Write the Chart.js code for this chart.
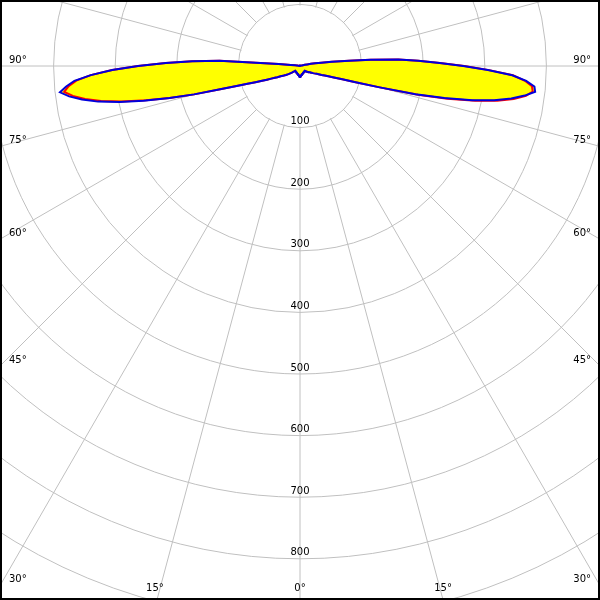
<!DOCTYPE html>
<html><head><meta charset="utf-8">
<script src="https://cdn.jsdelivr.net/npm/chart.js@4/dist/chart.umd.min.js"></script>
<style>
html,body{margin:0;padding:0;background:#fff;}
#wrap{position:relative;width:600px;height:600px;overflow:hidden;background:#fff;}
#holder{position:absolute;left:-316px;top:-550px;width:1232px;height:1232px;}
#frame{position:absolute;left:0;top:0;width:600px;height:600px;box-sizing:border-box;border:2px solid #000;pointer-events:none;}
</style></head><body>
<div id="wrap"><div id="holder"><canvas id="c"></canvas></div><div id="frame"></div></div>
<script>
// gamma angle step (degrees from nadir), samples 0..180 (145 values per half plane)
const gammaStep = 1.25;
// luminous intensity (cd/klm) per gamma sample
const c0 = [ // right half, red
  18,18,17,17,16,16,15,15,15,15, 14,14,14,14,13,13,13,13,13,13, 12,12,12,12,12,12,12,12,11,11,
  11,11,11,11,11,11,11,12,13,13, 14,15,16,16,17,18,19,21,22,24, 26,28,30,33,38,43,49,58,72,94,
  134,197,245,290,325,351,370,380,378,366, 346,307,267,227,192,160,115,80,52,35, 25,18,12,8,5,3,2,1,1,1,
  1,1,1,1,1,1,1,1,1,1, 1,1,1,1,1,1,1,1,1,1, 1,1,1,1,1,1,1,1,1,1, 1,1,1,1,1,1,1,1,1,1,
  1,1,1,1,1,1,1,1,1,1, 1,1,1,1,1];
const c180 = [ // left half, red
  18,18,17,17,16,16,15,15,15,15, 14,14,14,14,13,13,13,13,13,13, 12,12,12,12,12,12,12,12,11,11,
  11,11,11,11,11,11,11,12,13,14, 16,17,19,21,23,25,27,29,32,34, 37,41,45,51,58,66,77,90,108,135,
  178,218,256,295,328,353,372,385,377,364, 340,305,263,218,175,131,35,15,8,5, 4,3,2,1,1,1,1,1,1,1,
  1,1,1,1,1,1,1,1,1,1, 1,1,1,1,1,1,1,1,1,1, 1,1,1,1,1,1,1,1,1,1, 1,1,1,1,1,1,1,1,1,1,
  1,1,1,1,1,1,1,1,1,1, 1,1,1,1,1];
const c90 = [ // right half, blue
  18,18,17,17,16,16,15,15,15,15, 14,14,14,14,13,13,13,13,13,13, 12,12,12,12,12,12,12,12,11,11,
  11,11,11,11,11,11,11,12,13,13, 14,15,16,16,17,18,19,21,22,24, 26,28,30,33,38,43,49,58,72,94,
  134,193,240,285,320,347,368,384,382,368, 345,305,265,227,192,160,115,80,52,35, 25,18,12,8,5,3,2,1,1,1,
  1,1,1,1,1,1,1,1,1,1, 1,1,1,1,1,1,1,1,1,1, 1,1,1,1,1,1,1,1,1,1, 1,1,1,1,1,1,1,1,1,1,
  1,1,1,1,1,1,1,1,1,1, 1,1,1,1,1];
const c270 = [ // left half, blue
  18,18,17,17,16,16,15,15,15,15, 14,14,14,14,13,13,13,13,13,13, 12,12,12,12,12,12,12,12,11,11,
  11,11,11,11,11,11,11,12,13,14, 16,17,19,21,23,25,27,29,32,34, 37,41,45,51,58,66,77,90,108,135,
  178,218,260,299,333,358,378,392,381,367, 340,305,263,218,175,131,35,15,8,5, 4,3,2,1,1,1,1,1,1,1,
  1,1,1,1,1,1,1,1,1,1, 1,1,1,1,1,1,1,1,1,1, 1,1,1,1,1,1,1,1,1,1, 1,1,1,1,1,1,1,1,1,1,
  1,1,1,1,1,1,1,1,1,1, 1,1,1,1,1];
const radialTickLabels = [100,200,300,400,500,600,700,800];
const angleTickLabels = [90,75,60,45,30,15,0];

const OFFX = 316, OFFY = 550, FRAME = 600;
const HALF = c0.length - 1;      // 144 steps = 180 degrees
const N = HALF * 2;              // full circle
const GRID_EVERY = 15 / gammaStep;
const labels = Array.from({length: N}, (_, i) => (i * gammaStep) + '°');
function ring(left, right) {
  const out = [];
  for (let i = 0; i < N; i++) out.push(i <= HALF ? left[i] : right[N - i]);
  return out;
}
const redData = ring(c180, c0);
const blueData = ring(c270, c90);

const polarDecor = {
  id: 'polarDecor',
  beforeDatasetsDraw(chart) {
    const s = chart.scales.r, ctx = chart.ctx;
    ctx.save();
    ctx.fillStyle = '#ffffff';
    ctx.beginPath();
    ctx.arc(s.xCenter, s.yCenter, s.getDistanceFromCenterForValue(100) - 1, 0, Math.PI * 2);
    ctx.fill();
    ctx.restore();
  },
  afterDatasetsDraw(chart) {
    const s = chart.scales.r, ctx = chart.ctx;
    const xc = s.xCenter, yc = s.yCenter;
    ctx.save();
    ctx.fillStyle = '#000';
    ctx.font = '10px "DejaVu Sans"';
    ctx.textBaseline = 'middle';
    ctx.textAlign = 'center';
    radialTickLabels.forEach(v => {
      ctx.fillText(String(v), xc, yc + s.getDistanceFromCenterForValue(v) - 6);
    });
    angleTickLabels.forEach(g => {
      const sides = g === 0 ? [1] : [-1, 1];
      sides.forEach(sd => {
        const rad = g * Math.PI / 180;
        const sn = Math.sin(rad), cs = Math.cos(rad);
        const tX = sn > 1e-9 ? (sd > 0 ? (OFFX + FRAME - xc) : (xc - OFFX)) / sn : Infinity;
        const tY = cs > 1e-9 ? (OFFY + FRAME - yc) / cs : Infinity;
        const txt = g + '°';
        if (tX < tY) {
          const y = yc + tX * cs - 6;
          if (sd < 0) { ctx.textAlign = 'left'; ctx.fillText(txt, OFFX + 9, y); }
          else { ctx.textAlign = 'right'; ctx.fillText(txt, OFFX + FRAME - 9, y); }
        } else {
          ctx.textAlign = 'center';
          const x = xc + sd * tY * sn + (sd < 0 ? -2 : 0);
          ctx.fillText(txt, x, OFFY + FRAME - 12);
        }
      });
    });
    ctx.restore();
  }
};

new Chart(document.getElementById('c'), {
  type: 'radar',
  data: {
    labels: labels,
    datasets: [
      {label: 'C90-C270', data: blueData, borderColor: '#0000dd', borderWidth: 2, fill: false, pointRadius: 0, tension: 0},
      {label: 'C0-C180', data: redData, borderColor: '#ff0000', borderWidth: 2, fill: false, pointRadius: 0, tension: 0},
      {label: 'fill1', data: blueData, borderWidth: 0, borderColor: 'rgba(0,0,0,0)', backgroundColor: '#ffff00', fill: 'origin', pointRadius: 0, tension: 0},
      {label: 'fill2', data: redData, borderWidth: 0, borderColor: 'rgba(0,0,0,0)', backgroundColor: '#ffff00', fill: 'origin', pointRadius: 0, tension: 0}
    ]
  },
  options: {
    responsive: true,
    maintainAspectRatio: false,
    animation: false,
    devicePixelRatio: 1,
    layout: {padding: 0},
    plugins: {legend: {display: false}, tooltip: {enabled: false}},
    scales: {
      r: {
        min: 0, max: 1000,
        startAngle: 180,
        ticks: {display: false, stepSize: 100},
        pointLabels: {display: false},
        grid: {circular: true, color: '#c0c0c0', lineWidth: 1},
        angleLines: {
          color: '#c0c0c0',
          lineWidth: (ctx) => (ctx.index % GRID_EVERY === 0 ? 1 : 0)
        }
      }
    }
  },
  plugins: [polarDecor]
});
</script>
</body></html>
